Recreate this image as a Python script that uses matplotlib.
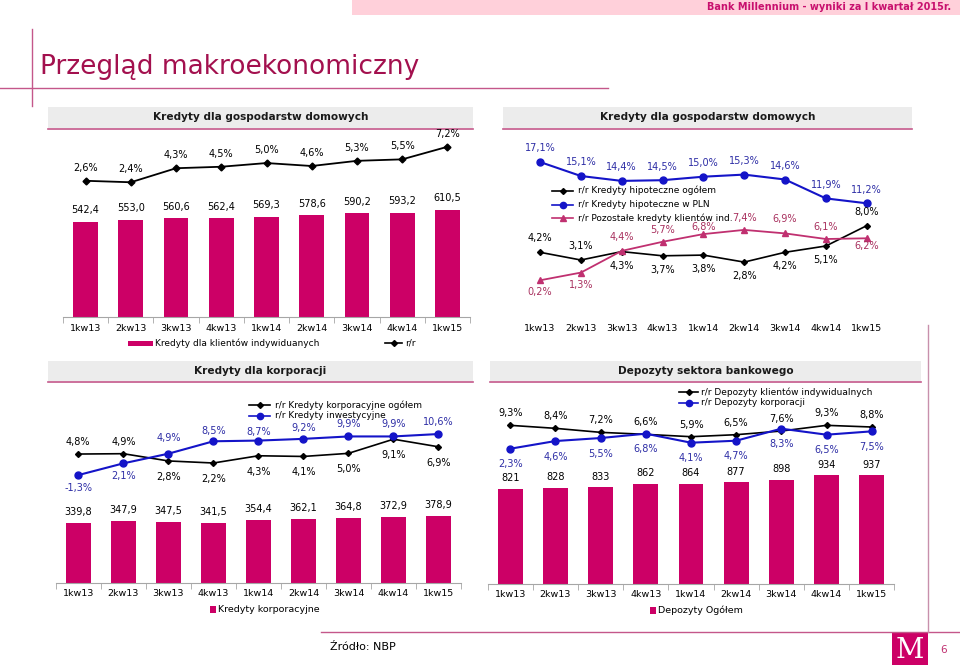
import matplotlib
matplotlib.use("Agg")
import matplotlib.pyplot as plt
from matplotlib.patches import Rectangle

plt.rcParams['font.family'] = ['DejaVu Sans']

# ---- data ----
quarters = ['1kw13', '2kw13', '3kw13', '4kw13', '1kw14', '2kw14', '3kw14', '4kw14', '1kw15']

hh_loans = [542.4, 553.0, 560.6, 562.4, 569.3, 578.6, 590.2, 593.2, 610.5]
hh_yoy = [2.6, 2.4, 4.3, 4.5, 5.0, 4.6, 5.3, 5.5, 7.2]

mort_total = [4.2, 3.1, 4.3, 3.7, 3.8, 2.8, 4.2, 5.1, 8.0]
mort_pln = [17.1, 15.1, 14.4, 14.5, 15.0, 15.3, 14.6, 11.9, 11.2]
other_retail = [0.2, 1.3, 4.4, 5.7, 6.8, 7.4, 6.9, 6.1, 6.2]

corp_loans = [339.8, 347.9, 347.5, 341.5, 354.4, 362.1, 364.8, 372.9, 378.9]
corp_yoy = [4.8, 4.9, 2.8, 2.2, 4.3, 4.1, 5.0, 9.1, 6.9]
invest_yoy = [-1.3, 2.1, 4.9, 8.5, 8.7, 9.2, 9.9, 9.9, 10.6]

deposits = [821, 828, 833, 862, 864, 877, 898, 934, 937]
dep_retail_yoy = [9.3, 8.4, 7.2, 6.6, 5.9, 6.5, 7.6, 9.3, 8.8]
dep_corp_yoy = [2.3, 4.6, 5.5, 6.8, 4.1, 4.7, 8.3, 6.5, 7.5]

# label offsets in pixels (+ above the point, - below)
mort_total_dy = [14, 14, -14, -14, -14, -14, -14, -14, 14]
other_retail_dy = [-12, -12, 14, 12, 7, 12, 14, 12, -8]
corp_yoy_dy = [12, 12, -16, -16, -16, -16, -16, -16, -16]
invest_yoy_dy = [-13, -13, 16, 10, 9, 11, 12, 12, 12]

MAGENTA = '#CC0066'
DARKPINK = '#A3104E'
ROSE = '#C4578A'
BLUE = '#1414C8'
BLUE_TXT = '#2E2EA6'
PINK_LINE = '#C03070'
PINK_TXT = '#A8305E'
GRAY_BOX = '#ECECEC'
AXIS_GRAY = '#A6A6A6'

W, H = 960, 665
fig = plt.figure(figsize=(W / 100, H / 100), dpi=100)

# overlay in pixel coords for slide decoration
bg = fig.add_axes([0, 0, 1, 1])
bg.set_xlim(0, W)
bg.set_ylim(H, 0)
bg.axis('off')


def add_ax(left, top, right, bottom):
    a = fig.add_axes([left / W, 1 - bottom / H, (right - left) / W, (bottom - top) / H])
    a.patch.set_visible(False)
    return a


def pct(v):
    return f"{v:.1f}".replace('.', ',') + '%'


def num(v):
    return f"{v:.1f}".replace('.', ',')


def put(ax, x, y, text, dy, color='black'):
    ax.annotate(text, (x, y), xytext=(0, dy * 0.72), textcoords='offset points',
                ha='center', va='center', fontsize=7, color=color)


def style_xaxis(ax, line=True, pad=5):
    for s in ['top', 'left', 'right']:
        ax.spines[s].set_visible(False)
    ax.spines['bottom'].set_visible(line)
    ax.spines['bottom'].set_color(AXIS_GRAY)
    ax.set_xticks(range(len(quarters)))
    ax.set_xticklabels(quarters)
    ax.tick_params(axis='x', length=0, labelsize=6.8, pad=pad)
    if line:
        ax.set_xticks([i - 0.5 for i in range(len(quarters) + 1)], minor=True)
        ax.tick_params(axis='x', which='minor', length=4, color=AXIS_GRAY)
    ax.set_yticks([])
    ax.set_xlim(-0.5, 8.5)


def header(x0, x1, y0, y1, text):
    bg.add_patch(Rectangle((x0, y0), x1 - x0, y1 - y0, color=GRAY_BOX, lw=0))
    bg.plot([x0, x1], [y1 + 1, y1 + 1], color=ROSE, lw=1.2)
    bg.text((x0 + x1) / 2, (y0 + y1) / 2, text, ha='center', va='center',
            fontsize=7.6, fontweight='bold', color='#1a1a1a')


def leg_line(x0, x1, y, color, marker, ms, text, tx):
    bg.plot([x0, x1], [y, y], color=color, lw=1.2)
    bg.plot([(x0 + x1) / 2], [y], marker=marker, color=color, ms=ms)
    bg.text(tx, y, text, ha='left', va='center', fontsize=6.5)


xs = list(range(len(quarters)))

# ---- slide decoration ----
bg.add_patch(Rectangle((352, 0), W - 352, 15, color='#FFD0DA', lw=0))
bg.text(951, 7.5, 'Bank Millennium - wyniki za I kwartał 2015r.', ha='right', va='center',
        fontsize=7, fontweight='bold', color='#C8106E')
bg.plot([32, 32], [29, 106], color=ROSE, lw=1)
bg.plot([0, 608], [88, 88], color=ROSE, lw=1)
bg.text(40, 67, 'Przegląd makroekonomiczny', ha='left', va='center', fontsize=19, color=DARKPINK)

bg.plot([321, W], [632, 632], color=ROSE, lw=1)
bg.plot([928, 928], [325, 632], color='#C890AC', lw=1)
bg.text(330, 647, 'Źródło: NBP', ha='left', va='center', fontsize=8)
bg.add_patch(Rectangle((892, 632), 36, 33, color=MAGENTA, lw=0))
bg.text(910, 651, 'M', ha='center', va='center', fontsize=20, color='white', family='DejaVu Serif')
bg.text(944, 650, '6', ha='center', va='center', fontsize=7.5, color=PINK_LINE)

header(48, 473, 107, 128, 'Kredyty dla gospodarstw domowych')
header(503, 912, 107, 128, 'Kredyty dla gospodarstw domowych')
header(48, 473, 361, 381, 'Kredyty dla korporacji')
header(490, 921, 361, 381, 'Depozyty sektora bankowego')

# ---- panel 1: household loans ----
ax1 = add_ax(63, 130, 470, 317)
ax1.bar(xs, hh_loans, width=0.55, color=MAGENTA)
ax1.set_ylim(0, (317 - 130) / 0.176)
style_xaxis(ax1)
for x, v in zip(xs, hh_loans):
    put(ax1, x, v, num(v), 11.5)
ax1b = ax1.twinx()
ax1b.patch.set_visible(False)
ax1b.plot(xs, hh_yoy, color='black', lw=1.3, marker='D', ms=3.5)
ax1b.set_ylim(-(317 - 200) / 7.39, (200 - 130) / 7.39)
ax1b.axis('off')
for x, v in zip(xs, hh_yoy):
    put(ax1b, x, v, pct(v), 13)
bg.add_patch(Rectangle((128, 340.5), 25, 5, color=MAGENTA, lw=0))
bg.text(155, 343, 'Kredyty dla klientów indywiduanych', ha='left', va='center', fontsize=6.5)
leg_line(385, 402, 343, 'black', 'D', 3, 'r/r', 405)

# ---- panel 2: mortgage growth ----
ax2 = add_ax(519.6, 130, 887.1, 317)
style_xaxis(ax2, line=False, pad=5)
ax2.set_ylim(-(317 - 281.7) / 7.0, (281.7 - 130) / 7.0)
ax2.plot(xs, mort_pln, color=BLUE, lw=1.5, marker='o', ms=5)
ax2.plot(xs, mort_total, color='black', lw=1.2, marker='D', ms=3)
ax2.plot(xs, other_retail, color=PINK_LINE, lw=1.3, marker='^', ms=5)
for x, v in zip(xs, mort_pln):
    put(ax2, x, v, pct(v), 13.5, BLUE_TXT)
for x, v, d in zip(xs, mort_total, mort_total_dy):
    put(ax2, x, v, pct(v), d)
for x, v, d in zip(xs, other_retail, other_retail_dy):
    put(ax2, x, v, pct(v), d, PINK_TXT)
leg_line(552, 573, 190.7, 'black', 'D', 3, 'r/r Kredyty hipoteczne ogółem', 578)
leg_line(552, 573, 204.5, BLUE, 'o', 4.5, 'r/r Kredyty hipoteczne w PLN', 578)
leg_line(552, 573, 218.3, PINK_LINE, '^', 4.5, 'r/r Pozostałe kredyty klientów ind.', 578)

# ---- panel 3: corporate loans ----
ax3 = add_ax(55.8, 385, 461, 582.7)
ax3.bar(xs, corp_loans, width=0.55, color=MAGENTA)
ax3.set_ylim(0, (582.7 - 385) / 0.176)
style_xaxis(ax3, pad=4.5)
for x, v in zip(xs, corp_loans):
    put(ax3, x, v, num(v), 11)
ax3b = ax3.twinx()
ax3b.patch.set_visible(False)
ax3b.set_ylim(-(582.7 - 470.6) / 3.45, (470.6 - 385) / 3.45)
ax3b.axis('off')
ax3b.plot(xs, corp_yoy, color='black', lw=1.2, marker='D', ms=3)
ax3b.plot(xs, invest_yoy, color=BLUE, lw=1.5, marker='o', ms=5)
for x, v, d in zip(xs, corp_yoy, corp_yoy_dy):
    put(ax3b, x, v, pct(v), d)
for x, v, d in zip(xs, invest_yoy, invest_yoy_dy):
    put(ax3b, x, v, pct(v), d, BLUE_TXT)
leg_line(249, 270, 405, 'black', 'D', 3, 'r/r Kredyty korporacyjne ogółem', 275)
leg_line(249, 270, 415.5, BLUE, 'o', 4.5, 'r/r Kredyty inwestycyjne', 275)
bg.add_patch(Rectangle((210, 605.5), 6, 7, color=MAGENTA, lw=0))
bg.text(218, 609, 'Kredyty korporacyjne', ha='left', va='center', fontsize=6.8)

# ---- panel 4: deposits ----
ax4 = add_ax(487.7, 385, 894.3, 584)
ax4.bar(xs, deposits, width=0.55, color=MAGENTA)
ax4.set_ylim(0, (584 - 385) / 0.1162)
style_xaxis(ax4, pad=4)
for x, v in zip(xs, deposits):
    put(ax4, x, v, f"{v}", 10.5)
ax4b = ax4.twinx()
ax4b.patch.set_visible(False)
ax4b.set_ylim(-(584 - 456.4) / 3.34, (456.4 - 385) / 3.34)
ax4b.axis('off')
ax4b.plot(xs, dep_retail_yoy, color='black', lw=1.2, marker='D', ms=3)
ax4b.plot(xs, dep_corp_yoy, color=BLUE, lw=1.5, marker='o', ms=5)
for x, v in zip(xs, dep_retail_yoy):
    put(ax4b, x, v, pct(v), 12)
for x, v in zip(xs, dep_corp_yoy):
    put(ax4b, x, v, pct(v), -15.5, BLUE_TXT)
leg_line(679, 698, 392.3, 'black', 'D', 3, 'r/r Depozyty klientów indywidualnych', 701)
leg_line(679, 698, 402.7, BLUE, 'o', 4.5, 'r/r Depozyty korporacji', 701)
bg.add_patch(Rectangle((650, 607), 6, 7, color=MAGENTA, lw=0))
bg.text(658, 610.5, 'Depozyty Ogółem', ha='left', va='center', fontsize=6.8)

fig.savefig('out.png', dpi=100)
